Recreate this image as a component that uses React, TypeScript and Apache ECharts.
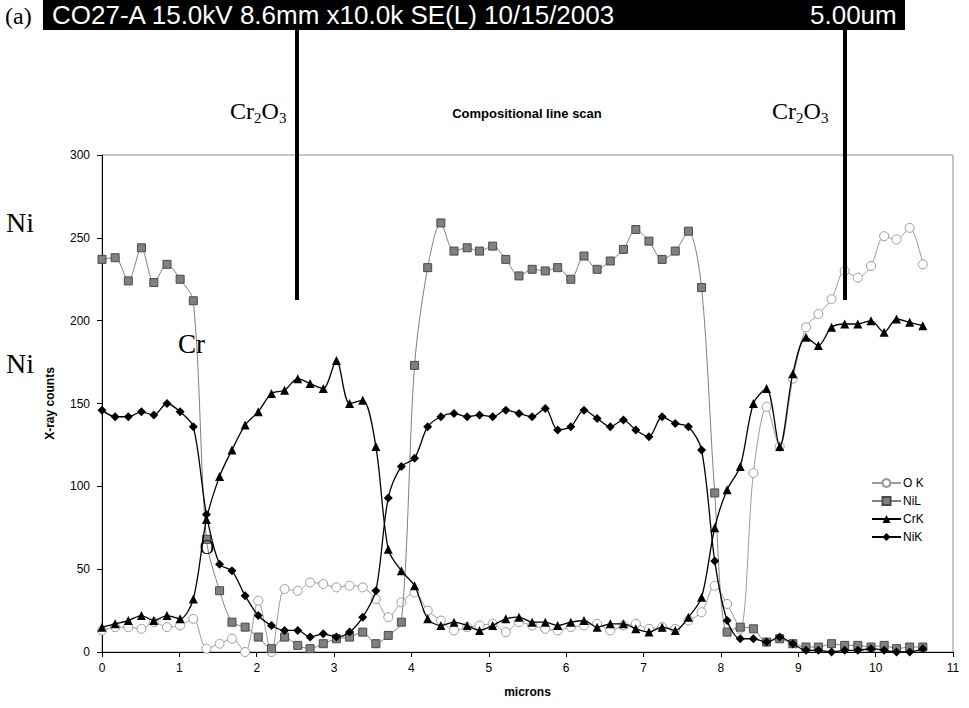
import React, { useEffect, useRef } from "react";
import * as echarts from "echarts";

const microns = [0, 0.17, 0.34, 0.51, 0.67, 0.84, 1.01, 1.18, 1.35, 1.52, 1.68, 1.85, 2.02, 2.19, 2.36, 2.53, 2.69, 2.86, 3.03, 3.2, 3.37, 3.54, 3.7, 3.87, 4.04, 4.21, 4.38, 4.55, 4.72, 4.88, 5.05, 5.22, 5.39, 5.56, 5.73, 5.89, 6.06, 6.23, 6.4, 6.57, 6.74, 6.9, 7.07, 7.24, 7.41, 7.58, 7.75, 7.92, 8.08, 8.25, 8.42, 8.59, 8.76, 8.93, 9.1, 9.26, 9.43, 9.6, 9.77, 9.94, 10.11, 10.27, 10.44, 10.61];

const oK = [13, 15, 15, 14, 18, 15, 16, 20, 2, 5, 8, 0, 31, 0, 38, 37, 42, 41, 39, 40, 39, 32, 21, 30, 36, 25, 19, 13, 15, 16, 17, 12, 18, 16, 14, 13, 15, 16, 17, 13, 16, 17, 14, 15, 14, 19, 24, 40, 29, 14, 108, 148, 124, 165, 196, 204, 213, 230, 226, 233, 251, 249, 256, 234];

const niL = [237, 238, 224, 244, 223, 234, 225, 212, 68, 37, 18, 15, 9, 2, 9, 4, 2, 5, 8, 9, 12, 5, 10, 18, 173, 232, 259, 242, 244, 242, 245, 237, 227, 231, 230, 232, 225, 239, 231, 236, 243, 255, 248, 237, 242, 254, 220, 96, 12, 15, 14, 6, 8, 5, 3, 3, 5, 4, 4, 3, 4, 2, 3, 3];

const crK = [15, 17, 19, 22, 19, 22, 20, 32, 80, 106, 122, 137, 145, 156, 158, 165, 162, 159, 176, 150, 152, 124, 62, 49, 40, 20, 16, 18, 16, 13, 16, 20, 21, 18, 18, 16, 18, 19, 15, 17, 17, 14, 12, 15, 13, 21, 33, 75, 98, 112, 150, 159, 124, 168, 190, 185, 196, 198, 198, 200, 193, 201, 199, 197];

const niK = [146, 142, 142, 145, 143, 150, 145, 136, 83, 53, 49, 34, 22, 16, 13, 13, 9, 11, 9, 12, 21, 37, 93, 112, 117, 136, 142, 144, 142, 143, 142, 146, 144, 142, 147, 134, 136, 146, 141, 136, 140, 134, 130, 142, 138, 136, 122, 55, 19, 8, 8, 6, 9, 5, 1, 1, 0, 1, 1, 2, 1, 0, 0, 2];

const seriesNames = ["O K", "NiL", "CrK", "NiK"];
const headerText = "CO27-A 15.0kV 8.6mm x10.0k SE(L) 10/15/2003";
const scaleText = "5.00um";

const SANS = "'Liberation Sans', Arial, sans-serif";
const SERIF = "'Liberation Serif', 'Times New Roman', serif";

function oxideLabel(x0: number, yc: number) {
  return [
    { type: "text", x: x0, y: yc, style: { text: "Cr", font: `24px ${SERIF}`, fill: "#000", verticalAlign: "middle" } },
    { type: "text", x: x0 + 24, y: yc + 7, style: { text: "2", font: `15px ${SERIF}`, fill: "#000", verticalAlign: "middle" } },
    { type: "text", x: x0 + 31.5, y: yc, style: { text: "O", font: `24px ${SERIF}`, fill: "#000", verticalAlign: "middle" } },
    { type: "text", x: x0 + 49, y: yc + 7, style: { text: "3", font: `15px ${SERIF}`, fill: "#000", verticalAlign: "middle" } },
  ];
}

export default function App() {
  const ref = useRef<HTMLDivElement>(null);
  useEffect(() => {
    const chart = echarts.init(ref.current!, null, { renderer: "svg" });
    const pair = (ys: number[]) => microns.map((x, i) => [x, ys[i]]);
    chart.setOption({
      animation: false,
      backgroundColor: "#fff",
      grid: { left: 102, right: 16, top: 155, bottom: 56, show: true, borderColor: "#8c8c8c", borderWidth: 1, backgroundColor: "#fff" },
      legend: {
        data: seriesNames,
        orient: "vertical",
        left: 866,
        top: 472,
        itemWidth: 29,
        itemHeight: 10,
        itemGap: 6,
        textStyle: { fontFamily: SANS, fontSize: 12, color: "#000", padding: [0, 0, 0, -3] },
      },
      xAxis: {
        type: "value",
        min: 0,
        max: 11,
        interval: 1,
        name: "microns",
        nameLocation: "middle",
        nameGap: 34,
        nameTextStyle: { fontFamily: SANS, fontSize: 12, fontWeight: "bold", color: "#000" },
        axisLine: { lineStyle: { color: "#000", width: 1 } },
        axisTick: { show: true, length: 5, lineStyle: { color: "#000" } },
        axisLabel: { fontFamily: SANS, fontSize: 12, color: "#000", margin: 10 },
        splitLine: { show: false },
      },
      yAxis: {
        type: "value",
        min: 0,
        max: 300,
        interval: 50,
        name: "X-ray counts",
        nameLocation: "middle",
        nameGap: 46,
        nameTextStyle: { fontFamily: SANS, fontSize: 12, fontWeight: "bold", color: "#000" },
        axisLine: { show: true, lineStyle: { color: "#000", width: 1 } },
        axisTick: { show: true, length: 5, lineStyle: { color: "#000" } },
        axisLabel: { fontFamily: SANS, fontSize: 12, color: "#000", margin: 12 },
        splitLine: { show: false },
      },
      series: [
        {
          name: "O K",
          type: "line",
          data: pair(oK),
          smooth: 0.3,
          symbol: "circle",
          symbolSize: 9,
          itemStyle: { color: "#fff", borderColor: "#9a9a9a", borderWidth: 1 },
          lineStyle: { color: "#9a9a9a", width: 1 },
          z: 2,
        },
        {
          name: "NiL",
          type: "line",
          data: pair(niL),
          smooth: 0.3,
          symbol: "rect",
          symbolSize: 8,
          itemStyle: { color: "#808080", borderColor: "#4a4a4a", borderWidth: 1 },
          lineStyle: { color: "#808080", width: 1 },
          z: 3,
        },
        {
          name: "CrK",
          type: "line",
          data: pair(crK),
          smooth: 0.3,
          symbol: "triangle",
          symbolSize: 9,
          itemStyle: { color: "#000" },
          lineStyle: { color: "#000", width: 1.3 },
          z: 4,
        },
        {
          name: "NiK",
          type: "line",
          data: pair(niK),
          smooth: 0.3,
          symbol: "diamond",
          symbolSize: 9,
          itemStyle: { color: "#000" },
          lineStyle: { color: "#000", width: 1.3 },
          z: 5,
        },
      ],
      graphic: [
        { type: "rect", shape: { x: 43, y: 0, width: 862, height: 30 }, style: { fill: "#000" }, z: 10 },
        { type: "text", x: 52, y: 15, style: { text: headerText, font: `26px ${SANS}`, fill: "#fff", verticalAlign: "middle" }, z: 11 },
        { type: "text", x: 810, y: 15, style: { text: scaleText, font: `26px ${SANS}`, fill: "#fff", verticalAlign: "middle" }, z: 11 },
        { type: "text", x: 5, y: 16, style: { text: "(a)", font: `24px ${SERIF}`, fill: "#000", verticalAlign: "middle" }, z: 11 },
        { type: "line", shape: { x1: 297, y1: 30, x2: 297, y2: 300 }, style: { stroke: "#000", lineWidth: 4 }, z: 10 },
        { type: "line", shape: { x1: 845, y1: 30, x2: 845, y2: 300 }, style: { stroke: "#000", lineWidth: 4 }, z: 10 },
        ...oxideLabel(230, 111),
        ...oxideLabel(772, 111),
        { type: "text", x: 527, y: 113, style: { text: "Compositional line scan", font: `bold 13px ${SANS}`, fill: "#000", align: "center", verticalAlign: "middle" } },
        { type: "text", x: 6, y: 222, style: { text: "Ni", font: `28px ${SERIF}`, fill: "#000", verticalAlign: "middle" } },
        { type: "text", x: 6, y: 363, style: { text: "Ni", font: `28px ${SERIF}`, fill: "#000", verticalAlign: "middle" } },
        { type: "text", x: 178, y: 344, style: { text: "Cr", font: `27px ${SERIF}`, fill: "#000", verticalAlign: "middle" }, z: 20 },
        { type: "text", x: 207, y: 547, style: { text: "O", font: `20px ${SERIF}`, fill: "#000", align: "center", verticalAlign: "middle" }, z: 20 },
      ],
    });
    return () => chart.dispose();
  }, []);
  return <div ref={ref} style={{ position: "fixed", left: 0, top: 0, width: 969, height: 708 }} />;
}
